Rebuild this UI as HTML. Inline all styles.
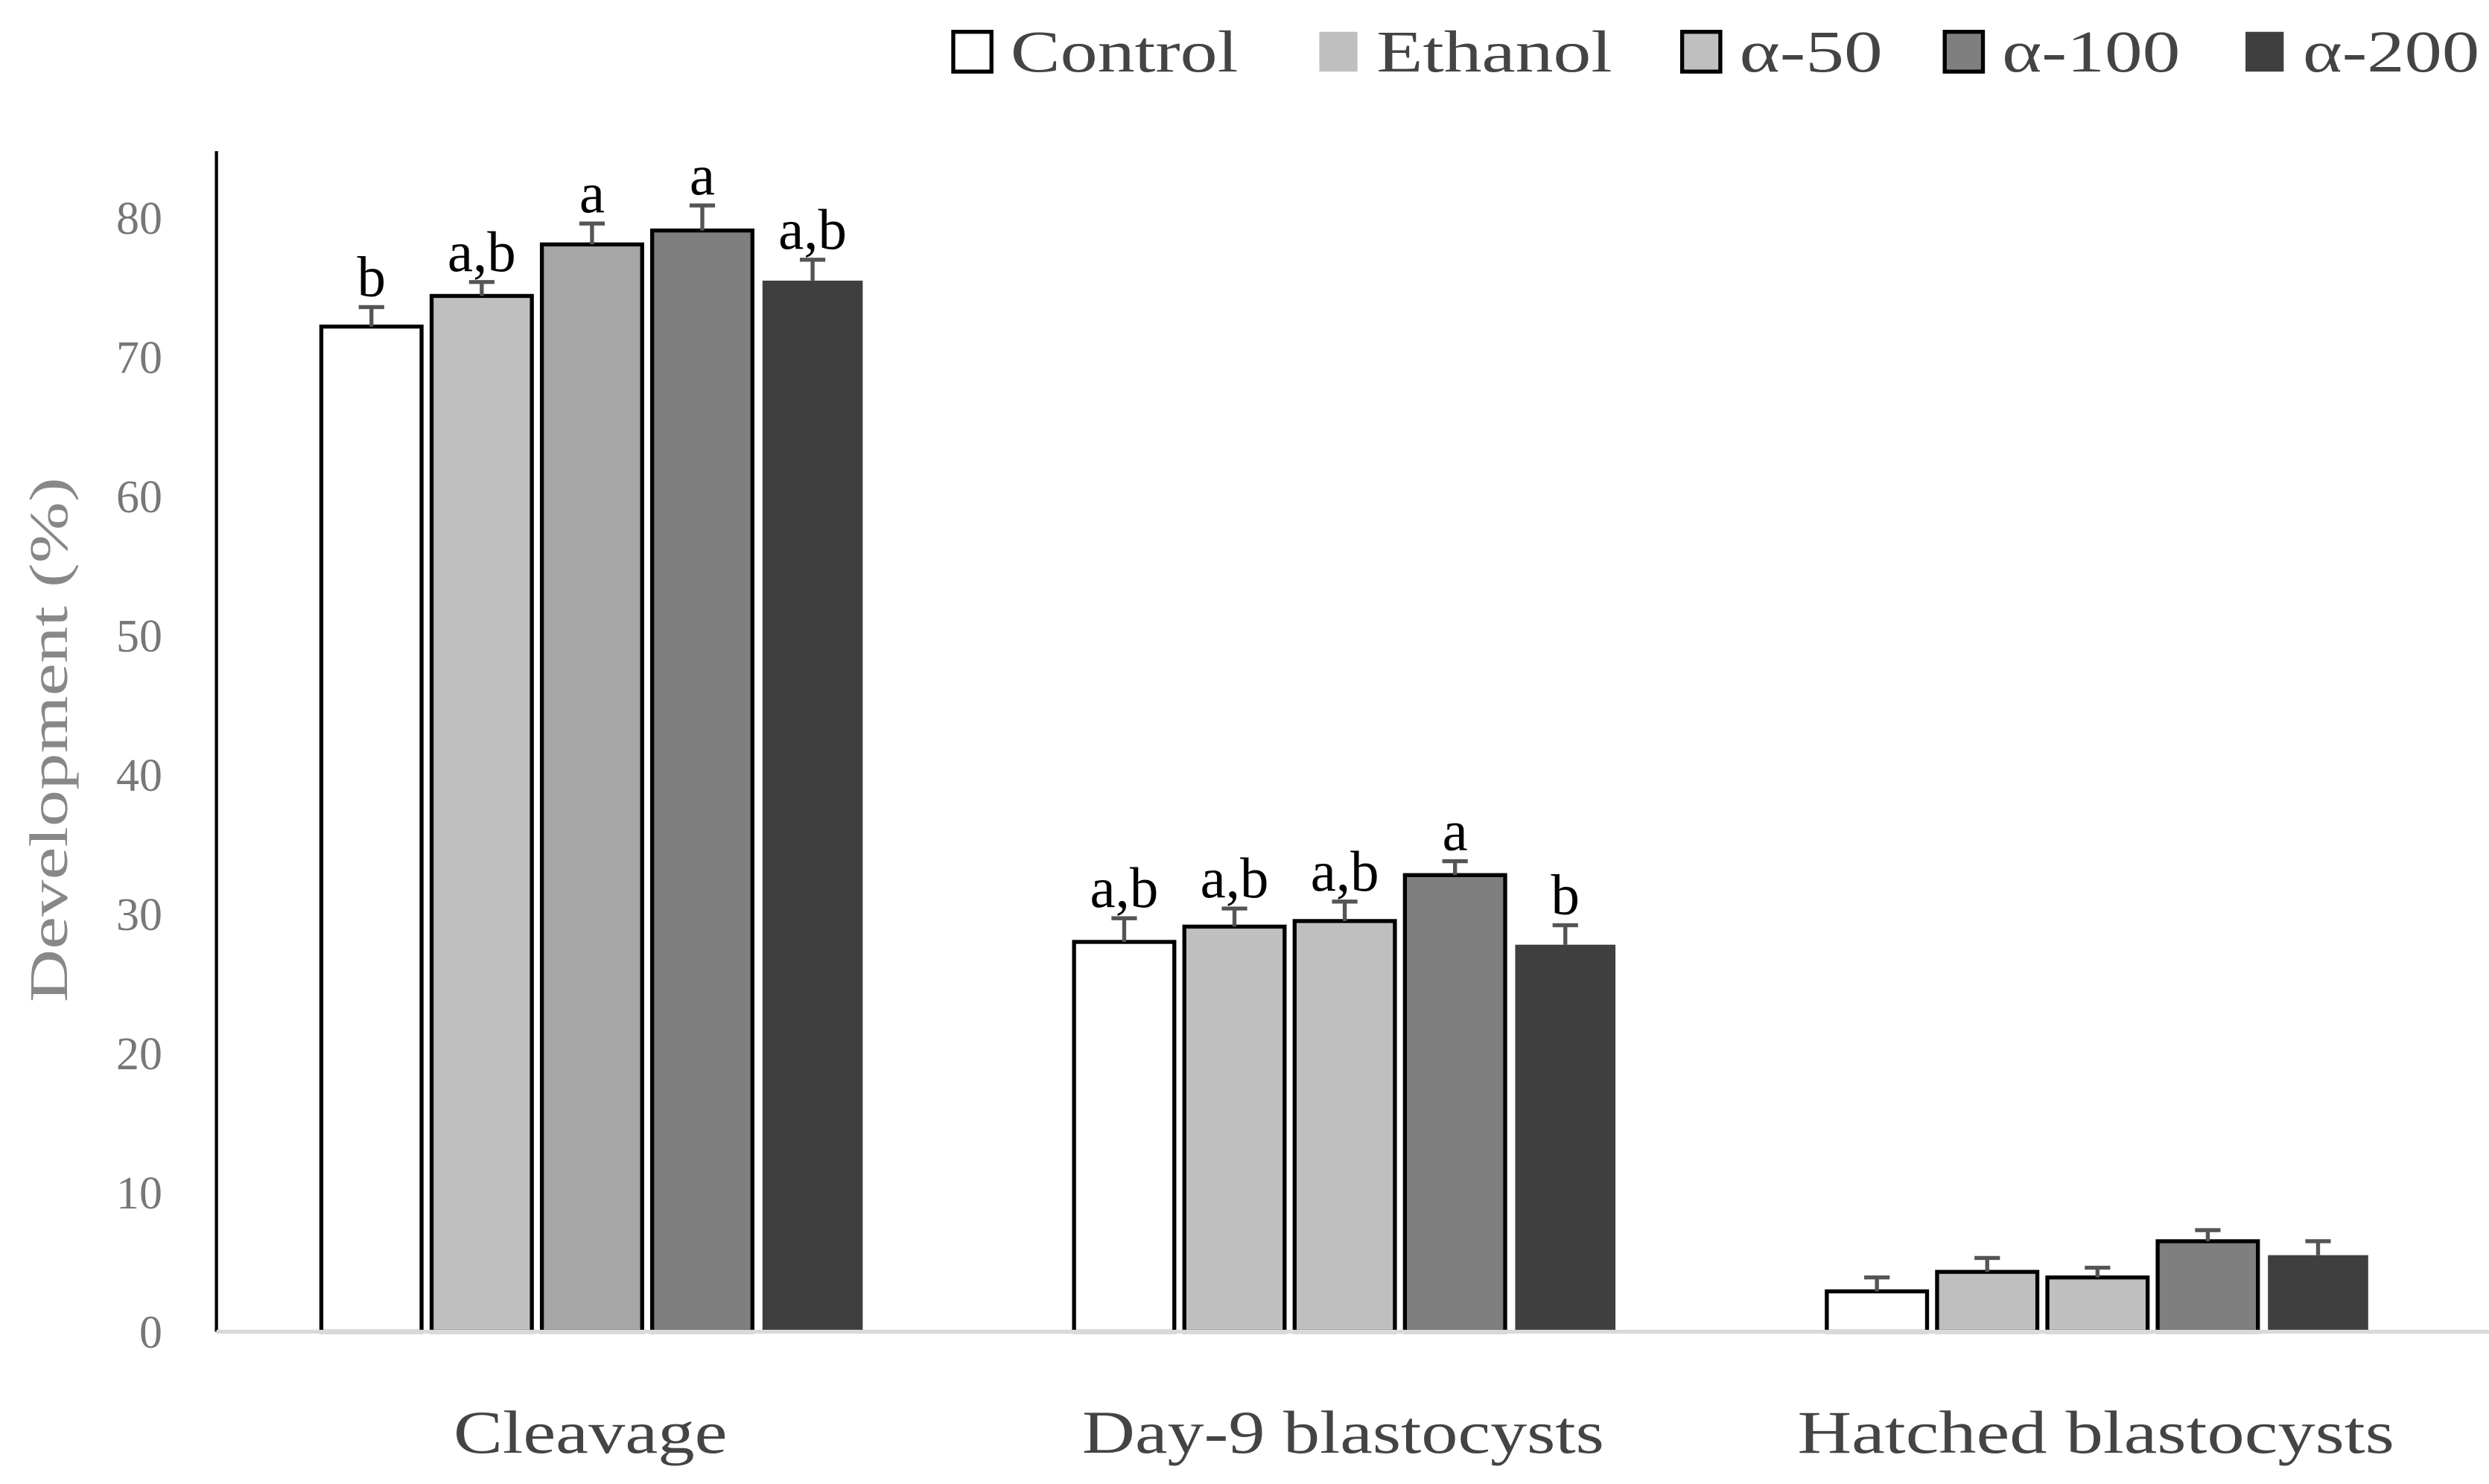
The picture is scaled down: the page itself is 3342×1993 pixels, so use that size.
<!DOCTYPE html>
<html><head><meta charset="utf-8"><style>html,body{margin:0;padding:0;background:#fff}svg{display:block}</style></head>
<body>
<svg id="chart" width="3342" height="1993" viewBox="0 0 1564 932.7" xmlns="http://www.w3.org/2000/svg" font-family="'Liberation Serif', serif">
<g id="legend"></g>
<g id="yaxis"></g>
<g id="bars"></g>
<g id="xaxis"></g>
<text transform="translate(42,465) rotate(-90)" text-anchor="middle" font-size="34" fill="#888" textLength="330" lengthAdjust="spacingAndGlyphs">Development (%)</text>
</svg>
<script>
const categories = ["Cleavage", "Day-9 blastocysts", "Hatched blastocysts"];
const seriesNames = ["Control", "Ethanol", "α-50", "α-100", "α-200"];
const control = [72.2, 28.0, 2.9];
const ethanol = [74.4, 29.1, 4.3];
const alpha50 = [78.1, 29.5, 3.9];
const alpha100 = [79.1, 32.8, 6.5];
const alpha200 = [75.5, 27.8, 5.5];
const errControl = [1.4, 1.7, 1.0];
const errEthanol = [1.0, 1.3, 1.0];
const errAlpha50 = [1.5, 1.4, 0.7];
const errAlpha100 = [1.8, 1.0, 0.8];
const errAlpha200 = [1.5, 1.4, 1.0];
const lettersControl = ["b", "a,b", ""];
const lettersEthanol = ["a,b", "a,b", ""];
const lettersAlpha50 = ["a", "a,b", ""];
const lettersAlpha100 = ["a", "a", ""];
const lettersAlpha200 = ["a,b", "b", ""];
const yTicks = [0, 10, 20, 30, 40, 50, 60, 70, 80];

const values = [control, ethanol, alpha50, alpha100, alpha200];
const errs = [errControl, errEthanol, errAlpha50, errAlpha100, errAlpha200];
const letters = [lettersControl, lettersEthanol, lettersAlpha50, lettersAlpha100, lettersAlpha200];
const fills = ["#ffffff", "#bfbfbf", "#bfbfbf", "#7f7f7f", "#3f3f3f"];
const bordered = [true, true, true, true, false];
const NS = "http://www.w3.org/2000/svg";
function el(tag, attrs, parent) { const e = document.createElementNS(NS, tag); for (const k in attrs) e.setAttribute(k, attrs[k]); parent.appendChild(e); return e; }
const y0 = 837, pxPerUnit = 8.75;
function yScale(v) { return y0 - v * pxPerUnit; }
const groupCenter0 = 372, groupStep = 473, barStep = 69.3, barW = 63;
function xScale(g, s) { return groupCenter0 + g * groupStep + (s - 2) * barStep; }

const yax = document.getElementById('yaxis');
const ya = el('line', {x1:136, x2:136, y1:95, y2:y0, stroke:'#000', 'stroke-width':2}, yax);


yTicks.forEach(t => {
  const tx = el('text', {x:102, y:yScale(t)+10, 'text-anchor':'end', 'font-size':29, fill:'#777'}, yax);
  tx.textContent = t;
  
  
});

const bars = document.getElementById('bars');
categories.forEach((c, g) => {
  values.forEach((arr, s) => {
    const v = arr[g], cx = xScale(g, s), top = yScale(v);
    let fill = fills[s];
    if (s === 2 && g === 0) fill = '#a6a6a6';
    const r = el('rect', {x:cx-barW/2, y:top, width:barW, height:y0-top, fill:fill}, bars);
    if (bordered[s]) { r.setAttribute('stroke', '#000'); r.setAttribute('stroke-width', 2.5); }
    
    
    const et = yScale(v + errs[s][g]);
    const eb = el('path', {d:`M${cx},${top} V${et} M${cx-8},${et} H${cx+8}`, stroke:'#555', 'stroke-width':2.5, fill:'none'}, bars);
    
    
    if (letters[s][g]) {
      const t = el('text', {x:cx, y:et-7, 'text-anchor':'middle', 'font-size':36, fill:'#000'}, bars);
      t.textContent = letters[s][g];
      
      
    }
  });
});

const xax = document.getElementById('xaxis');
const xl = el('line', {x1:136, x2:1564, y1:y0, y2:y0, stroke:'#d9d9d9', 'stroke-width':2.5}, xax);


const xLabelWidths = [172, 328, 375];
categories.forEach((c, g) => {
  const t = el('text', {x:xScale(g, 2)-1, y:913, 'text-anchor':'middle', 'font-size':38, fill:'#444', textLength:xLabelWidths[g], lengthAdjust:'spacingAndGlyphs'}, xax);
  t.textContent = c;
  
  
});

const leg = document.getElementById('legend');
const legBoxX = [599, 829, 1057, 1222, 1411];
const legTextW = [143, 148, 90, 112, 111];
seriesNames.forEach((n, s) => {
  const g = el('g', {}, leg);
  
  
  const b = el('rect', {x:legBoxX[s], y:20, width:24, height:25, fill:fills[s]}, g);
  if (s !== 1 && s !== 4) { b.setAttribute('stroke', '#000'); b.setAttribute('stroke-width', 2.5); }
  const t = el('text', {x:legBoxX[s]+36, y:45, 'font-size':37, fill:'#444', textLength:legTextW[s], lengthAdjust:'spacingAndGlyphs'}, g);
  t.textContent = n;
});
</script>
</body></html>
